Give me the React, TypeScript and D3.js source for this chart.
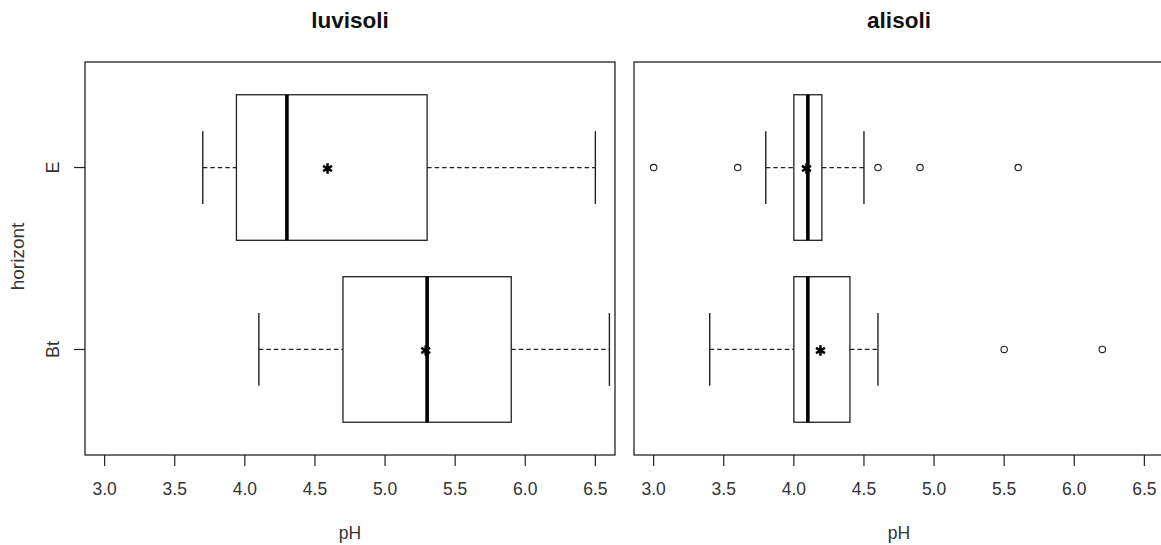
import React from "react";
import * as d3 from "d3";

// ---- data ----
const panels = ["luvisoli", "alisoli"];
const horizons = ["Bt", "E"]; // position 1 = Bt (bottom), 2 = E (top)
const xTicks = [3.0, 3.5, 4.0, 4.5, 5.0, 5.5, 6.0, 6.5];

// [whiskerLow, Q1, median, Q3, whiskerHigh] per horizon (Bt, E)
const luvisoliStats = [
  [4.1, 4.7, 5.3, 5.9, 6.6],
  [3.7, 3.94, 4.3, 5.3, 6.5],
];
const alisoliStats = [
  [3.4, 4.0, 4.1, 4.4, 4.6],
  [3.8, 4.0, 4.1, 4.2, 4.5],
];
const luvisoliMeans = [5.29, 4.59];
const alisoliMeans = [4.19, 4.09];
const luvisoliOutliers: number[][] = [[], []];
const alisoliOutliers = [
  [5.5, 6.2],
  [3.0, 3.6, 4.6, 4.9, 5.6],
];

const W = 1161;
const H = 545;
const FONT = "'Liberation Sans', Arial, Helvetica, sans-serif";
const INK = "#222";

const frameTop = 62;
const frameBottom = 455;
const panelRanges: [number, number][] = [
  [85, 615],
  [634, 1164],
];
const xDomain: [number, number] = [2.86, 6.64];

function Panel({
  idx,
  title,
  stats,
  means,
  outliers,
}: {
  idx: number;
  title: string;
  stats: number[][];
  means: number[];
  outliers: number[][];
}) {
  const [x0, x1] = panelRanges[idx];
  const x = d3.scaleLinear().domain(xDomain).range([x0, x1]);
  const y = d3.scaleLinear().domain([0.42, 2.58]).range([frameBottom, frameTop]);
  const boxHalf = y(1) - y(1.4);
  const capHalf = boxHalf / 2;
  const star = d3.symbol().type(d3.symbolAsterisk).size(75)();
  const cx = (x0 + x1) / 2;
  return (
    <g>
      <text
        x={cx}
        y={28}
        textAnchor="middle"
        fontFamily={FONT}
        fontWeight="bold"
        fontSize={22.5}
        fill="#111"
      >
        {title}
      </text>
      <rect
        x={x0}
        y={frameTop}
        width={x1 - x0}
        height={frameBottom - frameTop}
        fill="none"
        stroke={INK}
        strokeWidth={1.3}
      />
      {xTicks.map((t) => (
        <g key={t}>
          <line x1={x(t)} x2={x(t)} y1={frameBottom} y2={frameBottom + 11} stroke={INK} strokeWidth={1.2} />
          <text
            x={x(t)}
            y={495}
            textAnchor="middle"
            fontFamily={FONT}
            fontSize={17.5}
            fill="#333"
          >
            {t.toFixed(1)}
          </text>
        </g>
      ))}
      <text x={cx} y={539} textAnchor="middle" fontFamily={FONT} fontSize={17.5} fill="#333">
        pH
      </text>
      {stats.map((s, i) => {
        const yc = y(i + 1);
        const [wl, q1, med, q3, wh] = s;
        return (
          <g key={i}>
            <line x1={x(wl)} x2={x(q1)} y1={yc} y2={yc} stroke={INK} strokeWidth={1.3} strokeDasharray="4.5,3" />
            <line x1={x(q3)} x2={x(wh)} y1={yc} y2={yc} stroke={INK} strokeWidth={1.3} strokeDasharray="4.5,3" />
            <line x1={x(wl)} x2={x(wl)} y1={yc - capHalf} y2={yc + capHalf} stroke={INK} strokeWidth={1.4} />
            <line x1={x(wh)} x2={x(wh)} y1={yc - capHalf} y2={yc + capHalf} stroke={INK} strokeWidth={1.4} />
            <rect
              x={x(q1)}
              y={yc - boxHalf}
              width={x(q3) - x(q1)}
              height={2 * boxHalf}
              fill="white"
              stroke={INK}
              strokeWidth={1.3}
            />
            <line x1={x(med)} x2={x(med)} y1={yc - boxHalf} y2={yc + boxHalf} stroke="#000" strokeWidth={3.6} />
            {outliers[i].map((o, k) => (
              <circle key={k} cx={x(o)} cy={yc} r={3.2} fill="none" stroke={INK} strokeWidth={1.1} />
            ))}
            <path
              d={star || ""}
              transform={`translate(${x(means[i])},${yc + 1})`}
              fill="none"
              stroke="#000"
              strokeWidth={2.5}
            />
          </g>
        );
      })}
      {idx === 0 && (
        <g>
          {horizons.map((h, i) => {
            const yc = y(i + 1);
            return (
              <g key={h}>
                <line x1={x0 - 11} x2={x0} y1={yc} y2={yc} stroke={INK} strokeWidth={1.2} />
                <text
                  transform={`translate(59,${yc}) rotate(-90)`}
                  textAnchor="middle"
                  fontFamily={FONT}
                  fontSize={18}
                  fill="#333"
                >
                  {h}
                </text>
              </g>
            );
          })}
          <text
            transform={`translate(24,${(frameTop + frameBottom) / 2 - 2}) rotate(-90)`}
            textAnchor="middle"
            fontFamily={FONT}
            fontSize={19}
            fill="#333"
          >
            horizont
          </text>
        </g>
      )}
    </g>
  );
}

export default function App() {
  const allStats = [luvisoliStats, alisoliStats];
  const allMeans = [luvisoliMeans, alisoliMeans];
  const allOut = [luvisoliOutliers, alisoliOutliers];
  return (
    <div style={{ position: "fixed", left: 0, top: 0 }}>
      <svg width={W} height={H} style={{ display: "block", background: "white" }}>
        <rect width={W} height={H} fill="white" />
        {panels.map((p, i) => (
          <Panel key={p} idx={i} title={p} stats={allStats[i]} means={allMeans[i]} outliers={allOut[i]} />
        ))}
      </svg>
    </div>
  );
}
